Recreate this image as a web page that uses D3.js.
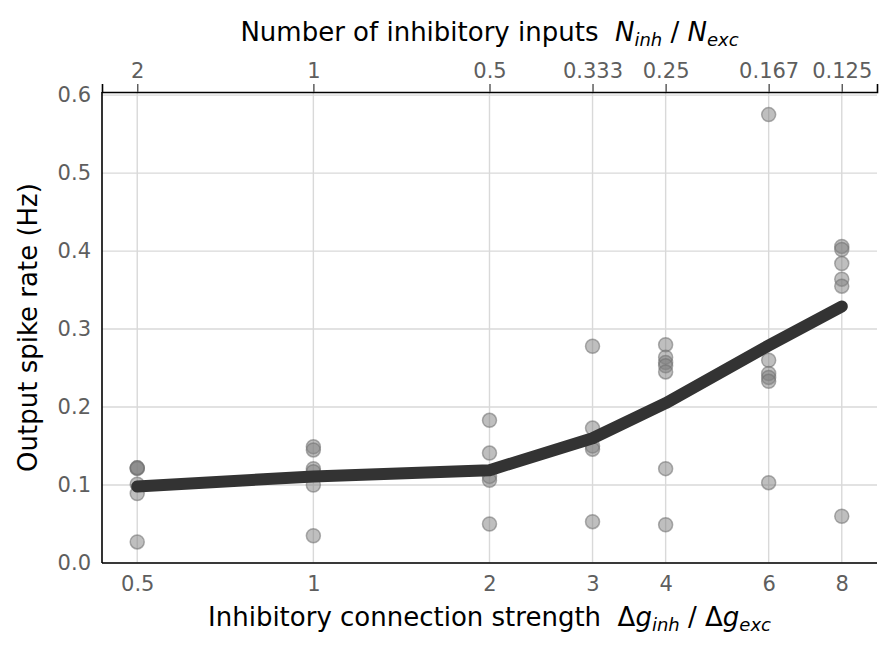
<!DOCTYPE html>
<html>
<head>
<meta charset="utf-8">
<script src="https://cdn.jsdelivr.net/npm/d3@7"></script>
<style>
	body { margin: 0; background: #fff; }
	text { font-family: "DejaVu Sans", sans-serif; }
</style>
</head>
<body>
<div id="chart"></div>
<script>
// x categories: connection strength and matching input ratio
var strengths = [0.5, 1, 2, 3, 4, 6, 8];
var inputLabels = ["2", "1", "0.5", "0.333", "0.25", "0.167", "0.125"];
var strengthLabels = ["0.5", "1", "2", "3", "4", "6", "8"];

// individual runs (Hz), one array per strength
var runRates = [
	[0.122, 0.121, 0.122, 0.101, 0.089, 0.027],
	[0.149, 0.145, 0.121, 0.117, 0.100, 0.035],
	[0.183, 0.141, 0.111, 0.106, 0.050],
	[0.278, 0.173, 0.150, 0.146, 0.053],
	[0.280, 0.264, 0.257, 0.253, 0.245, 0.121, 0.049],
	[0.575, 0.260, 0.243, 0.238, 0.233, 0.103],
	[0.406, 0.402, 0.384, 0.364, 0.355, 0.060]
];

// mean rate per strength
var meanRates = [0.098, 0.111, 0.119, 0.160, 0.205, 0.279, 0.329];

var yTicks = [0, 0.1, 0.2, 0.3, 0.4, 0.5, 0.6];

var w = 895, h = 654;
var pLeft = 102, pRight = 877, pTop = 92, pBottom = 563;
var tickFont = "21px", titleFont = "26px", subFont = "18px";
var tickColor = "#5e5e5e";

var svg = d3.select("#chart").append("svg")
	.attr("width", w)
	.attr("height", h);

var x = d3.scaleLog().base(2)
	.domain([0.5 / Math.pow(2, 0.2), 8 * Math.pow(2, 0.2)])
	.range([pLeft, pRight]);

var y = d3.scaleLinear()
	.domain([0, 0.604])
	.range([pBottom, pTop]);

// grid
svg.append("g").selectAll("line")
	.data(strengths).enter().append("line")
	.attr("x1", function (d) { return x(d); })
	.attr("x2", function (d) { return x(d); })
	.attr("y1", pTop).attr("y2", pBottom)
	.style("stroke", "#d9d9d9").style("stroke-width", 1.4);

svg.append("g").selectAll("line")
	.data(yTicks).enter().append("line")
	.attr("x1", pLeft).attr("x2", pRight)
	.attr("y1", function (d) { return y(d); })
	.attr("y2", function (d) { return y(d); })
	.style("stroke", "#d9d9d9").style("stroke-width", 1.4);

// points
var pts = [];
runRates.forEach(function (arr, i) {
	arr.forEach(function (v) { pts.push({ s: strengths[i], v: v }); });
});

svg.append("g").selectAll("circle")
	.data(pts).enter().append("circle")
	.attr("cx", function (d) { return x(d.s); })
	.attr("cy", function (d) { return y(d.v); })
	.attr("r", 7)
	.style("fill", "#808080").style("fill-opacity", 0.5)
	.style("stroke", "#707070").style("stroke-opacity", 0.55)
	.style("stroke-width", 1.5);

// mean line
var line = d3.line()
	.x(function (d, i) { return x(strengths[i]); })
	.y(function (d) { return y(d); });

svg.append("path")
	.datum(meanRates)
	.attr("d", line)
	.style("fill", "none")
	.style("stroke", "#333")
	.style("stroke-width", 12)
	.style("stroke-linecap", "round")
	.style("stroke-linejoin", "round");

// spines
svg.append("line").attr("x1", pLeft).attr("x2", pLeft).attr("y1", pTop).attr("y2", pBottom)
	.style("stroke", "#000").style("stroke-width", 1.6);
svg.append("line").attr("x1", pLeft).attr("x2", pRight).attr("y1", pBottom).attr("y2", pBottom)
	.style("stroke", "#000").style("stroke-width", 1.6);

//Top axis
var xTop = d3.axisTop(x)
	.tickValues(strengths)
	.tickFormat(function (d, i) { return inputLabels[i]; })
	.tickSize(8)
	.tickPadding(6);

var gTop = svg.append("g")
	.attr("transform", "translate(0," + pTop + ")")
	.call(xTop);
gTop.select(".domain").style("stroke", "#000").style("stroke-width", 1.6);
gTop.selectAll(".tick line").style("stroke", tickColor).style("stroke-width", 1.5);
gTop.selectAll(".tick text").style("fill", tickColor).style("font-size", tickFont)
	.style("font-family", "DejaVu Sans");

//Bottom axis
var xBot = d3.axisBottom(x)
	.tickValues(strengths)
	.tickFormat(function (d, i) { return strengthLabels[i]; })
	.tickSize(0)
	.tickPadding(13);

var gBot = svg.append("g")
	.attr("transform", "translate(0," + pBottom + ")")
	.call(xBot);
gBot.select(".domain").remove();
gBot.selectAll(".tick text").style("fill", tickColor).style("font-size", tickFont)
	.style("font-family", "DejaVu Sans");

//Left axis
var yAx = d3.axisLeft(y)
	.tickValues(yTicks)
	.tickFormat(d3.format(".1f"))
	.tickSize(0)
	.tickPadding(11);

var gLeft = svg.append("g")
	.attr("transform", "translate(" + pLeft + ",0)")
	.call(yAx);
gLeft.select(".domain").remove();
gLeft.selectAll(".tick text").style("fill", tickColor).style("font-size", tickFont)
	.style("font-family", "DejaVu Sans");

// axis titles
var cx = (pLeft + pRight) / 2;

function ratioLabel(sel, pre, sym, mid) {
	sel.append("tspan").text(pre);
	sel.append("tspan").style("font-style", "italic").text(sym);
	sel.append("tspan").style("font-style", "italic").style("font-size", subFont).attr("dy", 4.5).text("inh");
	sel.append("tspan").attr("dy", -4.5).text(mid);
	sel.append("tspan").style("font-style", "italic").text(sym);
	sel.append("tspan").style("font-style", "italic").style("font-size", subFont).attr("dy", 4.5).text("exc");
}

var tTop = svg.append("text")
	.attr("x", cx).attr("y", 41)
	.attr("text-anchor", "middle")
	.style("font-size", titleFont).style("fill", "#000");
ratioLabel(tTop, "Number of inhibitory inputs\u00a0\u00a0", "N", " / ");

var tBot = svg.append("text")
	.attr("x", cx).attr("y", 626)
	.attr("text-anchor", "middle")
	.style("font-size", titleFont).style("fill", "#000");
ratioLabel(tBot, "Inhibitory connection strength\u00a0\u00a0\u0394", "g", " / \u0394");

svg.append("text")
	.attr("transform", "translate(37," + ((pTop + pBottom) / 2) + ") rotate(-90)")
	.attr("text-anchor", "middle")
	.style("font-size", titleFont).style("fill", "#000")
	.text("Output spike rate (Hz)");
</script>
</body>
</html>
